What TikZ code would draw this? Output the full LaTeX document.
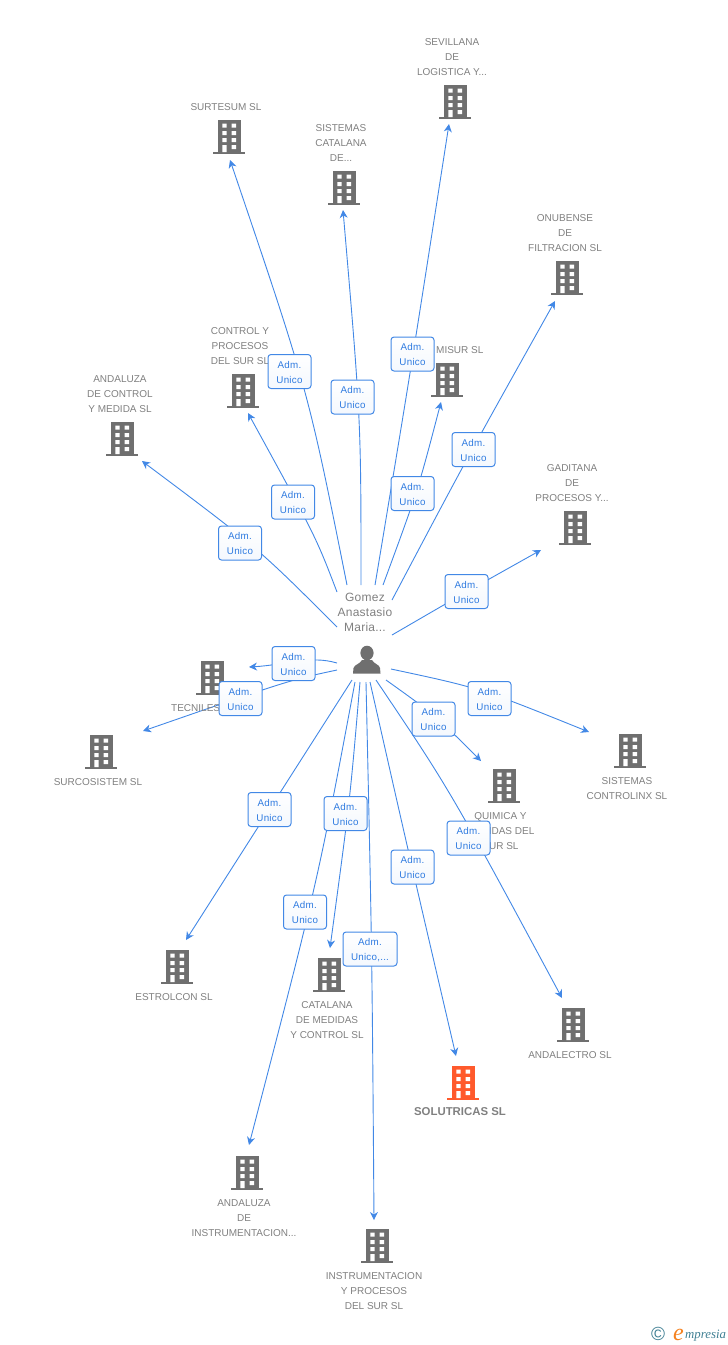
\documentclass[tikz,border=0pt]{standalone}
\usepackage{fontspec}
\setmainfont{Liberation Sans}
\newfontfamily\logofont{Liberation Serif}
\usetikzlibrary{arrows.meta,backgrounds}
\definecolor{bgray}{HTML}{6F6F6F}
\definecolor{tgray}{HTML}{808080}
\definecolor{linkblue}{HTML}{4288E6}
\definecolor{labblue}{HTML}{2F7BE0}
\definecolor{solorange}{HTML}{FF5A2C}
\definecolor{logoteal}{HTML}{3F7F93}
\definecolor{logoorange}{HTML}{F58220}
\tikzset{
  x=1pt,y=-1pt,
  link/.style={draw=linkblue,line width=0.9pt,-{Stealth[length=8pt,width=8pt,inset=2.5pt]}},
  lab/.style={draw=linkblue,line width=1pt,rounded corners=3pt,top color=white,bottom color=white!94!linkblue,
    text=labblue,minimum width=43pt,minimum height=34pt,inner sep=0pt,align=center,text height=24pt,
    font=\fontsize{9.8}{15}\selectfont\addfontfeature{LetterSpace=2.5}},
  name label/.style={text=tgray,align=center,inner sep=0pt,yshift=-0.8pt,font=\fontsize{10}{15}\selectfont},
  bldgbody/.style={minimum width=23pt,minimum height=33pt,inner sep=0pt,outer sep=0pt},
}
\newcommand{\bldg}[4]{%
  \node[bldgbody,fill=#4] (#1) at (#2,#3-0.5) {};
  \begin{scope}[shift={(#2,#3)}]
    \fill[#4] (-16,15) rectangle (16,17);
    \fill[white] (-6.7,-13.3) rectangle (-2.5,-9.3) (2.7,-13.3) rectangle (7,-9.3)
      (-6.7,-5.8) rectangle (-2.5,-1.8) (2.7,-5.8) rectangle (7,-1.8)
      (-6.7,1.2) rectangle (-2.5,5.2) (2.7,1.2) rectangle (7,5.2)
      (-6.7,8) rectangle (-2.5,15) (2.7,8) rectangle (7,12);
  \end{scope}}
\begin{document}
\begin{tikzpicture}
\useasboundingbox (0,0) rectangle (728,1345);

% buildings
\bldg{bSev}{455}{102}{bgray}
\bldg{bSur}{229}{137}{bgray}
\bldg{bSis}{344}{188}{bgray}
\bldg{bOnu}{567}{278}{bgray}
\bldg{bMis}{447}{380}{bgray}
\bldg{bCon}{243}{391}{bgray}
\bldg{bAnd}{122}{439}{bgray}
\bldg{bGad}{575}{528}{bgray}
\bldg{bTec}{212}{678}{bgray}
\bldg{bCos}{101}{752}{bgray}
\bldg{bLin}{630}{751}{bgray}
\bldg{bQui}{504}{786}{bgray}
\bldg{bEst}{177}{967}{bgray}
\bldg{bCat}{329}{975}{bgray}
\bldg{bAle}{573}{1025}{bgray}
\bldg{bSol}{463}{1083}{solorange}
\bldg{bIns}{247}{1173}{bgray}
\bldg{bPro}{377}{1246}{bgray}

% building names
\node[name label] (tSev) at (452,56) {SEVILLANA\\DE\\LOGISTICA Y...};
\node[name label] (tSur) at (226,106) {SURTESUM SL};
\node[name label] (tSis) at (341,142) {SISTEMAS\\CATALANA\\DE...};
\node[name label] (tOnu) at (565,232) {ONUBENSE\\DE\\FILTRACION SL};
\node[name label,anchor=west] (tMis) at (436,349) {MISUR SL};
\node[name label] (tCon) at (240,345) {CONTROL Y\\PROCESOS\\DEL SUR SL};
\node[name label] (tAnd) at (120,393) {ANDALUZA\\DE CONTROL\\Y MEDIDA SL};
\node[name label] (tGad) at (572,482) {GADITANA\\DE\\PROCESOS Y...};
\node[name label,anchor=west] (tTec) at (171,707) {TECNILES};
\node[name label] (tCos) at (98,781) {SURCOSISTEM SL};
\node[name label] (tLin) at (627,787.5) {SISTEMAS\\CONTROLINX SL};
\node[name label] (tQui) at (500.5,830) {QUIMICA Y\\MEDIDAS DEL\\SUR SL};
\node[name label] (tEst) at (174,996) {ESTROLCON SL};
\node[name label] (tCat) at (327,1019) {CATALANA\\DE MEDIDAS\\Y CONTROL SL};
\node[name label] (tAle) at (570,1054) {ANDALECTRO SL};
\node[name label,font=\fontsize{11.4}{15}\selectfont\bfseries] (tSol) at (460,1111) {SOLUTRICAS SL};
\node[name label] (tIns) at (244,1217) {ANDALUZA\\DE\\INSTRUMENTACION...};
\node[name label] (tPro) at (374,1290) {INSTRUMENTACION\\Y PROCESOS\\DEL SUR SL};

% person
\node[minimum width=27pt,minimum height=27pt,inner sep=0pt] (person) at (367,660) {};
\fill[bgray] (367,653) ellipse [x radius=6.6,y radius=7.3];
\fill[bgray] (353,673.5) -- (353.5,668) .. controls (354.5,664.5) and (360,664) .. (362,660)
  -- (372,660) .. controls (374,664) and (379.5,664.5) .. (380,668) -- (380.5,673.5) -- cycle;
\node[text=tgray,align=center,inner sep=0pt,font=\fontsize{12}{15}\selectfont\addfontfeature{LetterSpace=2}] (pname) at (365,612) {Gomez\\Anastasio\\Maria...};

% labels
\node[lab] (l1) at (293,502) {Adm.\\Unico};
\node[lab] (l2) at (289.5,371.5) {Adm.\\Unico};
\node[lab] (l3) at (352.5,397) {Adm.\\Unico};
\node[lab] (l4) at (412.5,354) {Adm.\\Unico};
\node[lab] (l5) at (412.5,493.5) {Adm.\\Unico};
\node[lab] (l6) at (473.5,449.5) {Adm.\\Unico};
\node[lab] (l7) at (466.5,591.5) {Adm.\\Unico};
\node[lab] (l8) at (240,543) {Adm.\\Unico};
\node[lab] (l9) at (293.5,663.5) {Adm.\\Unico};
\node[lab] (l10) at (240.5,698.5) {Adm.\\Unico};
\node[lab] (l11) at (489.5,698.5) {Adm.\\Unico};
\node[lab] (l12) at (433.5,719) {Adm.\\Unico};
\node[lab] (l13) at (468.5,838) {Adm.\\Unico};
\node[lab] (l14) at (412.5,867) {Adm.\\Unico};
\node[lab,minimum width=54pt] (l15) at (370,949) {Adm.\\Unico,...};
\node[lab] (l16) at (345.5,813.5) {Adm.\\Unico};
\node[lab] (l17) at (305,912) {Adm.\\Unico};
\node[lab] (l18) at (269.5,809.5) {Adm.\\Unico};

% connector ends
\coordinate (s1) at (337,592);  \coordinate (e1) at (248,413);
\coordinate (s2) at (347,585);  \coordinate (e2) at (230,160);
\coordinate (s3) at (361,585);  \coordinate (e3) at (343,210);
\coordinate (s4) at (375,585);  \coordinate (e4) at (449,124);
\coordinate (s5) at (383,585);  \coordinate (e5) at (441,402);
\coordinate (s6) at (392,600);  \coordinate (e6) at (555,301);
\coordinate (s7) at (392,635);  \coordinate (e7) at (541,550);
\coordinate (s8) at (337,627);  \coordinate (e8) at (142,461);
\coordinate (s9) at (337,663);  \coordinate (e9) at (249,667);
\coordinate (s10) at (337,670); \coordinate (e10) at (143,731);
\coordinate (s11) at (391,669); \coordinate (e11) at (589,732);
\coordinate (s12) at (386,680); \coordinate (e12) at (481,761);
\coordinate (s13) at (376,680); \coordinate (e13) at (562,998);
\coordinate (s14) at (370,682); \coordinate (e14) at (456,1056);
\coordinate (s15) at (366,682); \coordinate (e15) at (374,1220);
\coordinate (s16) at (360,682); \coordinate (e16) at (330,948);
\coordinate (s17) at (355,682); \coordinate (e17) at (249,1145);
\coordinate (s18) at (352,680); \coordinate (e18) at (186,940);

\begin{scope}[on background layer]
\draw[link] (s1) .. controls (316,537) .. (e1);
\draw[link] (s2) .. controls (308,390) .. (e2);
\draw[link] (s3) .. controls (361,420) .. (e3);
\draw[link] (s4) .. controls (410,375) .. (e4);
\draw[link] (s5) .. controls (418,490) .. (e5);
\draw[link] (s6) .. controls (466,460) .. (e6);
\draw[link] (s7) .. controls (466,592) .. (e7);
\draw[link] (s8) .. controls (258,548) .. (e8);
\draw[link] (s9) .. controls (310,655) and (285,665) .. (e9);
\draw[link] (s10) .. controls (290,680) .. (e10);
\draw[link] (s11) .. controls (480,688) .. (e11);
\draw[link] (s12) .. controls (435,715) .. (e12);
\draw[link] (s13) .. controls (450,790) .. (e13);
\draw[link] (s14) .. controls (408,850) .. (e14);
\draw[link] (s15) .. controls (372,950) .. (e15);
\draw[link] (s16) .. controls (350,800) .. (e16);
\draw[link] (s17) .. controls (318,880) .. (e17);
\draw[link] (s18) .. controls (269,810) .. (e18);
\end{scope}

% logo
\node[text=logoteal,inner sep=0pt,font=\fontsize{19}{19}\selectfont] (logoC) at (658,1334) {©};
\node[text=logoorange,inner sep=0pt,font=\logofont\itshape\fontsize{24}{24}\selectfont,anchor=base] (logoE) at (678.5,1340) {e};
\node[text=logoteal,inner sep=0pt,anchor=base west,font=\logofont\itshape\fontsize{12.8}{14}\selectfont] (logoT) at (685,1338) {mpresia};
\end{tikzpicture}
\end{document}
